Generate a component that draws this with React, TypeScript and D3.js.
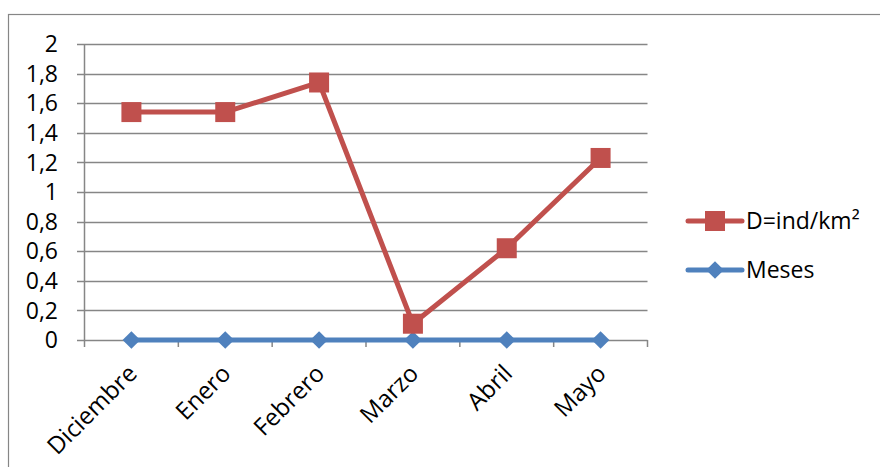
import React from "react";
import * as d3 from "d3";

const categories = ["Diciembre", "Enero", "Febrero", "Marzo", "Abril", "Mayo"];
const densidad = [1.54, 1.54, 1.74, 0.11, 0.62, 1.23];
const meses = [0, 0, 0, 0, 0, 0];
const yTicks = [0, 0.2, 0.4, 0.6, 0.8, 1, 1.2, 1.4, 1.6, 1.8, 2];
const seriesNames = ["D=ind/km²", "Meses"];

const W = 880;
const H = 467;
const FONT = "'Open Sans', Lato, sans-serif";
const RED = "#C0504D";
const BLUE = "#4F81BD";
const GRID = "#868686";

export default function App() {
  const left = 84.5;
  const right = 647.5;
  const top = 44;
  const bottom = 340;
  const x = d3.scaleBand<string>().domain(categories).range([left, right]);
  const y = d3.scaleLinear().domain([0, 2]).range([bottom, top]);
  const cx = (c: string) => (x(c) as number) + x.bandwidth() / 2;
  const line = d3
    .line<number>()
    .x((_, i) => cx(categories[i]))
    .y((d) => y(d));
  const fmt = (v: number) => String(+v.toFixed(1)).replace(".", ",");
  const diamond = d3.symbol().type(d3.symbolDiamond2).size(200)() as string;

  const bounds = x.domain().map((c) => x(c) as number).concat([right]);

  return (
    <svg
      width={W}
      height={H}
      style={{ position: "absolute", left: 0, top: 0, background: "#fff" }}
      fontFamily={FONT}
    >
      <rect x={0} y={0} width={W} height={H} fill="#fff" />
      <rect x={8.5} y={14.5} width={W} height={H} fill="none" stroke={GRID} strokeWidth={1.2} />
      {/* gridlines and y ticks */}
      {yTicks.map((t) => (
        <g key={t}>
          <line x1={77} x2={right} y1={Math.round(y(t)) + 0.5} y2={Math.round(y(t)) + 0.5} stroke={GRID} strokeWidth={1.5} />
          <text x={58} y={y(t)} dy="0.36em" textAnchor="end" fontSize={23} fill="#000">
            {fmt(t)}
          </text>
        </g>
      ))}
      {/* y axis */}
      <line x1={left} x2={left} y1={top} y2={bottom} stroke={GRID} strokeWidth={1.5} />
      {/* x axis ticks */}
      {bounds.map((b, i) => (
        <line key={i} x1={b} x2={b} y1={bottom} y2={bottom + 7} stroke={GRID} strokeWidth={1.5} />
      ))}
      {/* x labels */}
      {categories.map((c) => (
        <text
          key={c}
          transform={`translate(${cx(c) + 7},${bottom + 35}) rotate(-45)`}
          textAnchor="end"
          fontSize={24}
          fill="#000"
        >
          {c}
        </text>
      ))}
      {/* Meses series */}
      <path d={line(meses) as string} fill="none" stroke={BLUE} strokeWidth={5} strokeLinejoin="round" />
      {meses.map((v, i) => (
        <path key={i} d={diamond} transform={`translate(${cx(categories[i])},${y(v)})`} fill={BLUE} />
      ))}
      {/* Density series */}
      <path d={line(densidad) as string} fill="none" stroke={RED} strokeWidth={5} strokeLinejoin="round" />
      {densidad.map((v, i) => (
        <rect key={i} x={cx(categories[i]) - 10} y={y(v) - 10} width={20} height={20} fill={RED} />
      ))}
      {/* legend */}
      <g>
        <line x1={688} x2={742} y1={221} y2={221} stroke={RED} strokeWidth={5} strokeLinecap="round" />
        <rect x={705} y={211} width={20} height={20} fill={RED} />
        <text x={746} y={221} dy="0.36em" fontSize={23} fill="#000">{seriesNames[0]}</text>
        <line x1={688} x2={742} y1={270} y2={270} stroke={BLUE} strokeWidth={5} strokeLinecap="round" />
        <path d={diamond} transform="translate(715,270)" fill={BLUE} />
        <text x={746} y={270} dy="0.36em" fontSize={23} fill="#000">{seriesNames[1]}</text>
      </g>
    </svg>
  );
}
